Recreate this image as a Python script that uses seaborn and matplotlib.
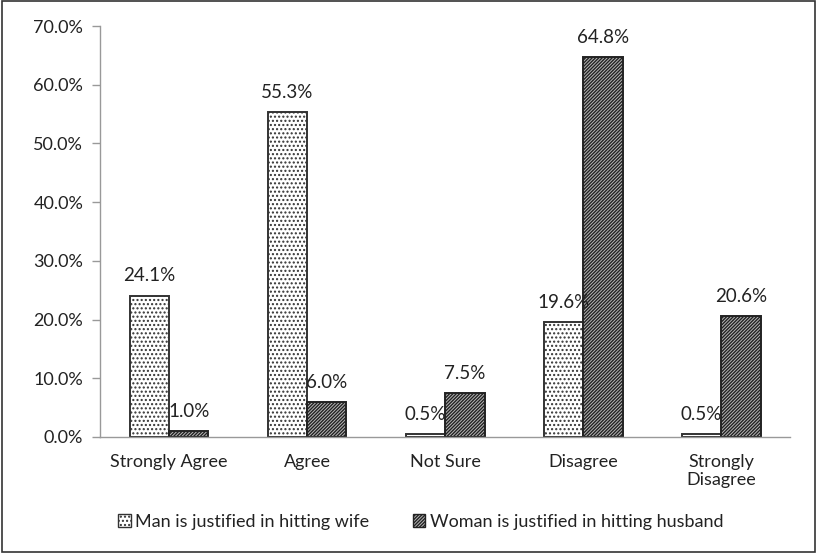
import matplotlib
matplotlib.use("Agg")
import matplotlib.pyplot as plt
import seaborn as sns
import pandas as pd
from matplotlib.patches import Patch, Rectangle
from matplotlib.ticker import FuncFormatter, FixedLocator

categories = ["Strongly Agree", "Agree", "Not Sure", "Disagree", "Strongly\nDisagree"]
series_names = ["Man is justified in hitting wife", "Woman is justified in hitting husband"]
man_values = [24.1, 55.3, 0.5, 19.6, 0.5]
woman_values = [1.0, 6.0, 7.5, 64.8, 20.6]
y_ticks = [0, 10, 20, 30, 40, 50, 60, 70]

df = pd.DataFrame({
    "category": categories * 2,
    "series": [series_names[0]] * len(categories) + [series_names[1]] * len(categories),
    "value": man_values + woman_values,
})

sns.set_theme(style="white")
plt.rcParams["font.family"] = ["Lato", "DejaVu Sans"]
plt.rcParams["hatch.linewidth"] = 1.0

fig = plt.figure(figsize=(8.17, 5.53), dpi=100)
ax = fig.add_axes([0.1224, 0.2098, 0.845, 0.743])

sns.barplot(data=df, x="category", y="value", hue="series", order=categories,
            hue_order=series_names, width=0.57, palette=["white", "#b8b8b8"],
            edgecolor="black", linewidth=1.4, ax=ax, legend=False)

hatches = {series_names[0]: "....", series_names[1]: "//////////"}
edge_colors = {series_names[0]: "#333333", series_names[1]: "#222222"}
n = len(categories)
for i, patch in enumerate(ax.patches[: 2 * n]):
    s = series_names[i // n]
    patch.set_hatch(hatches[s])
    patch.set_edgecolor(edge_colors[s])

# value labels above each bar
for container, vals in zip(ax.containers, [man_values, woman_values]):
    ax.bar_label(container, labels=[f"{v:.1f}%" for v in vals], padding=8,
                 fontsize=13.5, color="#222222")

ax.set_ylim(0, 70)
ax.set_xlim(-0.5, n - 0.5)
ax.yaxis.set_major_locator(FixedLocator(y_ticks))
ax.yaxis.set_major_formatter(FuncFormatter(lambda v, p: f"{v:.1f}%"))
ax.set_xlabel("")
ax.set_ylabel("")

ax.xaxis.set_minor_locator(FixedLocator([i + 0.5 for i in range(-1, n)]))
ax.tick_params(axis="x", which="major", length=0, labelsize=13, labelcolor="#222222", pad=12)
ax.tick_params(axis="x", which="minor", length=6, width=1, color="#999999", direction="out")
ax.tick_params(axis="y", which="major", length=6, width=1, color="#999999", direction="out",
               labelsize=13, labelcolor="#222222", left=True, pad=6)

sns.despine(ax=ax, top=True, right=True)
for side in ["left", "bottom"]:
    ax.spines[side].set_color("#999999")
    ax.spines[side].set_linewidth(1)

handles = [
    Patch(facecolor="white", edgecolor="#333333", hatch="...."),
    Patch(facecolor="#b8b8b8", edgecolor="#222222", hatch="//////////"),
]
fig.legend(handles, series_names, loc="center", bbox_to_anchor=(0.515, 0.056), ncol=2,
           frameon=False, fontsize=13, handlelength=0.7, handleheight=0.7,
           handletextpad=0.25, columnspacing=2.4, labelcolor="#222222")

fig.patches.append(Rectangle((0.002, 0.002), 0.996, 0.996, transform=fig.transFigure,
                             fill=False, edgecolor="#333333", linewidth=1.2))

fig.savefig("out.png", dpi=100)
